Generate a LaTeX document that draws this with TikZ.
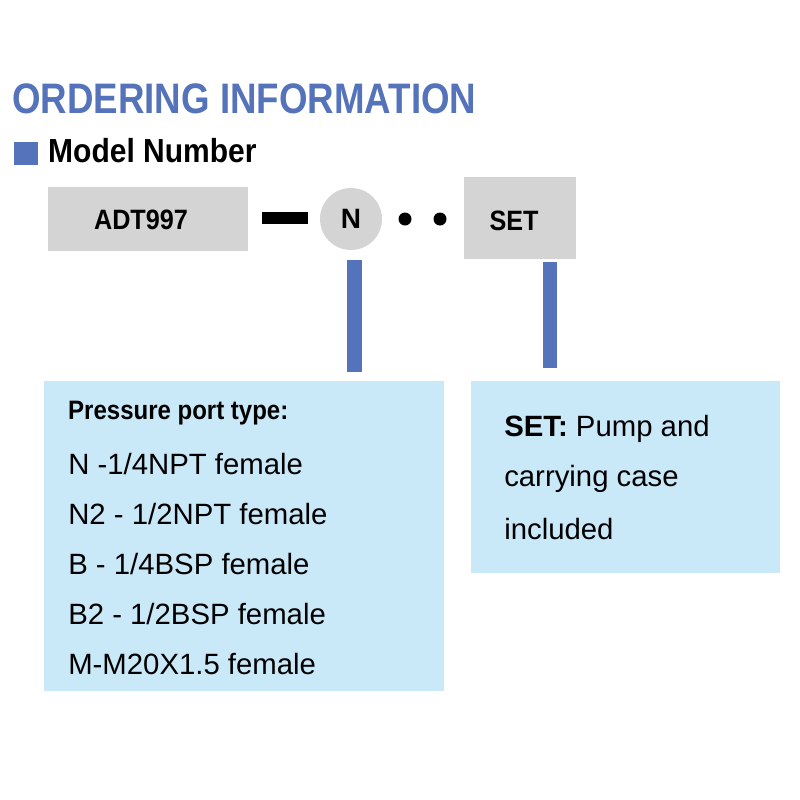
\documentclass[tikz,border=0pt]{standalone}
\usepackage{fontspec}
\setmainfont{Liberation Sans}
\begin{document}
\begin{tikzpicture}[x=0.75pt,y=-0.75pt,
  gbox/.style={fill=black!17,draw=none},
  bbox/.style={fill=cyan!8!blue!3!white,draw=none},
  lb/.style={fill={rgb,255:red,201;green,232;blue,248},draw=none},
  bl/.style={fill={rgb,255:red,84;green,115;blue,186},draw=none},
  txt/.style={anchor=west,inner sep=0,font=\fontsize{22}{22}\selectfont}]
\useasboundingbox (0,0) rectangle (800,800);
\definecolor{tblue}{RGB}{84,115,186}
\node[anchor=west,inner sep=0,text=tblue,font=\bfseries\fontsize{32}{32}\selectfont,xscale=0.86] (title) at (12,99) {ORDERING INFORMATION};
\path[bl] (14,142) rectangle (38,165);
\node[anchor=west,inner sep=0,font=\bfseries\fontsize{25}{25}\selectfont,xscale=0.9] (mn) at (48,151) {Model Number};
\path[gbox] (48,187) rectangle (248,251);
\node[font=\bfseries\fontsize{21}{21}\selectfont,xscale=0.9] (adt) at (141,220) {ADT997};
\path[fill=black] (262,212) rectangle (308,224);
\node[circle,fill=black!17,minimum size=46.5pt,inner sep=0,font=\bfseries\fontsize{21}{21}\selectfont] (n) at (351,219) {N};
\fill (405,219) circle (6.5);
\fill (440,219) circle (6.5);
\path[gbox] (464,177) rectangle (576,259);
\node[font=\bfseries\fontsize{21}{21}\selectfont,xscale=0.9] (set) at (514,221) {SET};
\path[bl] (347,260) rectangle (362,372);
\path[bl] (543,262) rectangle (557,368);
\path[lb] (44,381) rectangle (444,691);
\path[lb] (471,381) rectangle (780,573);
\node[txt,font=\bfseries\fontsize{20}{20}\selectfont,xscale=0.9] (p0) at (68,413) {Pressure port type:};
\node[txt] (p1) at (68,464) {N -1/4NPT female};
\node[txt] (p2) at (68,514) {N2 - 1/2NPT female};
\node[txt] (p3) at (68,564) {B - 1/4BSP female};
\node[txt] (p4) at (68,614) {B2 - 1/2BSP female};
\node[txt] (p5) at (68,664) {M-M20X1.5 female};
\node[txt] (s1) at (504,429) {\textbf{SET:} Pump and};
\node[txt] (s2) at (504,479) {carrying case};
\node[txt] (s3) at (504,529) {included};
\end{tikzpicture}
\end{document}
